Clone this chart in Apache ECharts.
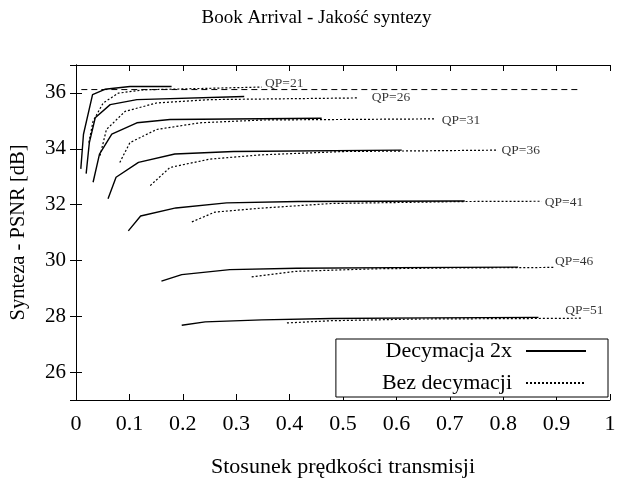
<!DOCTYPE html>
<html>
<head>
<meta charset="utf-8">
<script src="https://cdn.jsdelivr.net/npm/echarts@6/dist/echarts.min.js"></script>
<style>
  html, body { margin: 0; padding: 0; background: #fff; }
  #chart { width: 633px; height: 483px; }
</style>
</head>
<body>
<div id="chart"></div>
<script>
// [stosunek, PSNR] pary
var qp21Dec = [[0.009, 33.28], [0.014, 34.52], [0.031, 35.94], [0.054, 36.13], [0.101, 36.23], [0.179, 36.23]];
var qp21Bez = [[0.024, 34.22], [0.032, 34.99], [0.051, 35.64], [0.079, 35.99], [0.126, 36.11], [0.348, 36.21]];
var qp26Dec = [[0.019, 33.11], [0.025, 34.22], [0.036, 35.11], [0.064, 35.58], [0.114, 35.76], [0.315, 35.87]];
var qp26Bez = [[0.045, 33.75], [0.057, 34.69], [0.092, 35.34], [0.151, 35.64], [0.250, 35.76], [0.526, 35.82]];
var qp31Dec = [[0.032, 32.80], [0.044, 33.81], [0.067, 34.52], [0.114, 34.93], [0.176, 35.05], [0.460, 35.09]];
var qp31Bez = [[0.082, 33.51], [0.101, 34.22], [0.151, 34.69], [0.232, 34.93], [0.350, 35.03], [0.672, 35.07]];
var qp36Dec = [[0.060, 32.21], [0.075, 32.98], [0.117, 33.51], [0.185, 33.81], [0.295, 33.90], [0.610, 33.95]];
var qp36Bez = [[0.139, 32.68], [0.176, 33.33], [0.251, 33.63], [0.345, 33.78], [0.500, 33.90], [0.790, 33.95]];
var qp41Dec = [[0.098, 31.06], [0.121, 31.59], [0.187, 31.88], [0.282, 32.06], [0.416, 32.11], [0.728, 32.13]];
var qp41Bez = [[0.217, 31.38], [0.260, 31.73], [0.345, 31.87], [0.479, 32.04], [0.728, 32.11], [0.872, 32.12]];
var qp46Dec = [[0.160, 29.26], [0.198, 29.49], [0.288, 29.67], [0.413, 29.72], [0.600, 29.74], [0.828, 29.76]];
var qp46Bez = [[0.329, 29.41], [0.413, 29.61], [0.563, 29.70], [0.700, 29.73], [0.828, 29.74], [0.897, 29.75]];
var qp51Dec = [[0.198, 27.68], [0.242, 27.80], [0.348, 27.87], [0.479, 27.92], [0.660, 27.94], [0.866, 27.96]];
var qp51Bez = [[0.395, 27.76], [0.479, 27.84], [0.638, 27.90], [0.866, 27.92], [0.947, 27.93]];

// linia przerywana (odniesienie)
var refLine = [[0.010, 36.12], [0.946, 36.12]];

// podpisy krzywych
var qpNames = ['QP=21', 'QP=26', 'QP=31', 'QP=36', 'QP=41', 'QP=46', 'QP=51'];
var qpLabelX = [0.354, 0.554, 0.685, 0.797, 0.878, 0.897, 0.916];
var qpLabelY = [36.34, 35.82, 35.02, 33.95, 32.06, 29.96, 28.19];

var FONT = "'Liberation Serif', 'Times New Roman', serif";
var decName = 'Decymacja 2x';
var bezName = 'Bez decymacji';

var decSets = [qp21Dec, qp26Dec, qp31Dec, qp36Dec, qp41Dec, qp46Dec, qp51Dec];
var bezSets = [qp21Bez, qp26Bez, qp31Bez, qp36Bez, qp41Bez, qp46Bez, qp51Bez];

var series = [];
decSets.forEach(function (d) {
	series.push({
		name: decName,
		type: 'line',
		data: d,
		symbol: 'none',
		silent: true,
		lineStyle: { color: '#000', width: 1.4, type: 'solid' },
		itemStyle: { color: '#000' }
	});
});
bezSets.forEach(function (d) {
	series.push({
		name: bezName,
		type: 'line',
		data: d,
		symbol: 'none',
		silent: true,
		lineStyle: { color: '#000', width: 1.2, type: [2, 2] },
		itemStyle: { color: '#000' }
	});
});
series.push({
	type: 'line',
	data: refLine,
	symbol: 'none',
	silent: true,
	lineStyle: { color: '#000', width: 1, type: [6, 4] }
});
series.push({
	type: 'scatter',
	symbolSize: 0,
	silent: true,
	data: qpNames.map(function (n, i) { return [qpLabelX[i], qpLabelY[i], n]; }),
	label: {
		show: true,
		position: 'right',
		distance: 0,
		color: '#000',
		fontFamily: FONT,
		fontSize: 13.5,
		formatter: function (p) { return p.data[2]; }
	}
});

var tickStyle = { show: true, inside: true, length: 6, lineStyle: { color: '#000', width: 1 } };
var lineStyle = { show: true, lineStyle: { color: '#000', width: 1 } };

var option = {
	animation: false,
	backgroundColor: '#fff',
	title: {
		text: 'Book Arrival - Jakość syntezy',
		left: 'center',
		top: 4,
		textStyle: { fontFamily: FONT, fontSize: 19, fontWeight: 'normal', color: '#000' }
	},
	legend: {
		data: [decName, bezName],
		orient: 'vertical',
		align: 'right',
		right: 25,
		top: 339,
		itemWidth: 60,
		itemHeight: 14,
		itemGap: 10,
		padding: [1, 21, 3, 46],
		backgroundColor: '#fff',
		borderColor: '#000',
		borderWidth: 1,
		borderRadius: 0,
		itemStyle: { opacity: 0 },
		textStyle: { fontFamily: FONT, fontSize: 22, color: '#000', padding: [0, 9, 0, 0] }
	},
	grid: { left: 76, right: 23, top: 65, bottom: 82, containLabel: false },
	xAxis: [{
		type: 'value',
		min: 0,
		max: 1,
		interval: 0.1,
		name: 'Stosunek prędkości transmisji',
		nameLocation: 'middle',
		nameGap: 56,
		nameTextStyle: { fontFamily: FONT, fontSize: 22, color: '#000' },
		axisLine: lineStyle,
		axisTick: tickStyle,
		splitLine: { show: false },
		axisLabel: { margin: 13, fontFamily: FONT, fontSize: 22, color: '#000' }
	}, {
		type: 'value',
		position: 'top',
		min: 0,
		max: 1,
		interval: 0.1,
		axisLine: lineStyle,
		axisTick: tickStyle,
		splitLine: { show: false },
		axisLabel: { show: false }
	}],
	yAxis: [{
		type: 'value',
		min: 25,
		max: 37,
		minInterval: 2,
		maxInterval: 2,
		name: 'Synteza - PSNR [dB]',
		nameLocation: 'middle',
		nameGap: 47,
		nameTextStyle: { fontFamily: FONT, fontSize: 20.5, color: '#000' },
		axisLine: lineStyle,
		axisTick: tickStyle,
		splitLine: { show: false },
		axisLabel: { margin: 10, fontFamily: FONT, fontSize: 21, color: '#000', showMinLabel: false, showMaxLabel: false }
	}, {
		type: 'value',
		position: 'right',
		min: 25,
		max: 37,
		minInterval: 2,
		maxInterval: 2,
		axisLine: lineStyle,
		axisTick: tickStyle,
		splitLine: { show: false },
		axisLabel: { show: false }
	}],
	series: series
};

var chart = echarts.init(document.getElementById('chart'), null, { renderer: 'canvas' });
chart.setOption(option);
</script>
</body>
</html>
